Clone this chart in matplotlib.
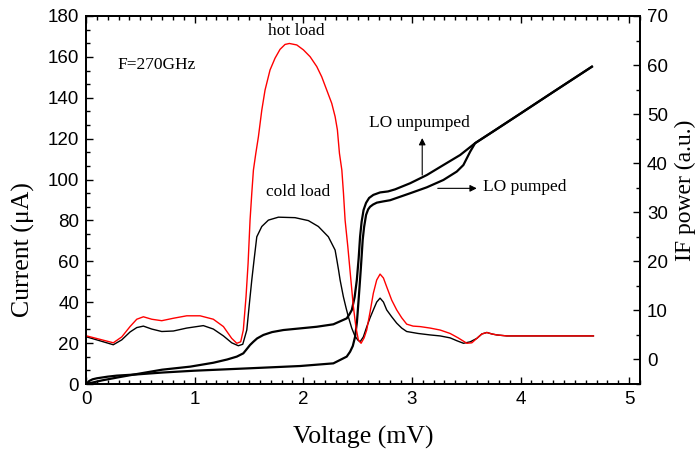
#!/usr/bin/env python3
import matplotlib
matplotlib.use("Agg")
import matplotlib.pyplot as plt
from matplotlib.ticker import AutoMinorLocator, MultipleLocator

# I-V curves, current in uA (left axis)
iv_pumped_v = [0.0, 0.15, 0.30, 0.47, 0.70, 0.96, 1.172, 1.30, 1.388, 1.448, 1.48, 1.51,
               1.541, 1.575, 1.633, 1.713, 1.817, 2.124, 2.277, 2.40, 2.426, 2.447, 2.473,
               2.493, 2.510, 2.523, 2.537, 2.555, 2.578, 2.606, 2.645, 2.707, 2.781,
               2.845, 2.984, 3.137, 3.29, 3.444, 3.582, 3.75, 4.0, 4.3, 4.657]
iv_pumped_i = [0.0, 1.8, 3.3, 4.9, 7.0, 8.5, 10.4, 12.0, 13.4, 15.0, 17.1, 19.1,
               20.7, 22.3, 24.0, 25.4, 26.4, 28.0, 29.2, 32.1, 34.2, 36.2, 42.6,
               50.9, 61.6, 72.1, 79.3, 85.1, 88.6, 91.0, 92.5, 93.7, 94.2,
               95.2, 98.2, 102.2, 107.1, 112.0, 117.8, 123.6, 132.3, 142.8, 155.2]

iv_unpumped_v = [0.0, 0.03, 0.06, 0.10, 0.20, 0.283, 0.47, 0.70, 0.994, 1.51, 1.971,
                 2.277, 2.40, 2.431, 2.456, 2.477, 2.494, 2.507, 2.518, 2.529, 2.538,
                 2.547, 2.560, 2.578, 2.597, 2.615, 2.643, 2.677, 2.735, 2.80, 2.984,
                 3.137, 3.29, 3.413, 3.474, 3.536, 3.582, 3.75, 4.0, 4.3, 4.657]
iv_unpumped_i = [0.0, 1.5, 2.3, 2.8, 3.6, 4.1, 4.7, 5.6, 6.5, 7.7, 8.8,
                 10.1, 13.4, 15.8, 18.6, 23.1, 30.3, 39.5, 47.5, 55.8, 63.1,
                 70.5, 76.8, 82.7, 85.4, 86.7, 87.8, 88.7, 89.3, 89.9, 93.3,
                 96.2, 99.8, 103.9, 107.1, 113.6, 117.8, 123.6, 132.3, 142.8, 155.2]

# IF power, a.u. (right axis)
hot_v = [0.006, 0.129, 0.251, 0.329, 0.405, 0.467, 0.528, 0.605, 0.697, 0.804, 0.927,
         1.05, 1.172, 1.265, 1.341, 1.388, 1.424, 1.448, 1.473, 1.492, 1.510, 1.526,
         1.541, 1.563, 1.587, 1.618, 1.648, 1.694, 1.740, 1.786, 1.832, 1.872, 1.940,
         2.001, 2.063, 2.124, 2.170, 2.216, 2.262, 2.293, 2.314, 2.333, 2.355, 2.370,
         2.385, 2.410, 2.435, 2.460, 2.485, 2.507, 2.532, 2.560, 2.584, 2.615,
         2.645, 2.676, 2.707, 2.738, 2.768, 2.814, 2.86, 2.906, 2.952, 3.011, 3.076,
         3.168, 3.26, 3.352, 3.426, 3.506, 3.552, 3.598, 3.644, 3.69, 3.736, 3.782,
         3.874, 4.671]
hot_p = [4.8, 4.1, 3.4, 4.6, 6.7, 8.2, 8.7, 8.2, 7.9, 8.4, 8.9,
         8.9, 8.2, 6.7, 4.3, 3.3, 3.6, 6.0, 12.8, 19.6, 28.4, 33.9,
         38.6, 42.0, 45.4, 50.8, 54.9, 59.0, 61.4, 63.2, 64.2, 64.4, 64.1,
         63.1, 61.7, 59.7, 57.6, 54.9, 52.2, 49.5, 46.8, 42.0, 38.6, 33.9,
         28.4, 23.0, 17.0, 11.0, 6.5, 4.0, 3.3, 4.4, 6.0, 9.7,
         13.5, 16.2, 17.4, 16.6, 14.8, 12.1, 10.1, 8.5, 7.2, 6.8, 6.7,
         6.4, 6.0, 5.3, 4.4, 3.3, 3.4, 4.3, 5.2, 5.5, 5.2, 5.0,
         4.8, 4.8]

cold_v = [0.006, 0.129, 0.251, 0.329, 0.405, 0.467, 0.528, 0.605, 0.697, 0.804, 0.927,
          1.080, 1.172, 1.265, 1.341, 1.402, 1.443, 1.480, 1.504, 1.526, 1.547, 1.572,
          1.618, 1.679, 1.771, 1.924, 2.047, 2.139, 2.231, 2.293, 2.309, 2.325, 2.339,
          2.369, 2.394, 2.415, 2.446, 2.477, 2.505, 2.523, 2.553, 2.585, 2.615, 2.645,
          2.676, 2.707, 2.738, 2.768, 2.814, 2.86, 2.906, 2.952, 3.057, 3.168, 3.260,
          3.352, 3.416, 3.475, 3.537, 3.598, 3.644, 3.69, 3.736, 3.782, 3.874, 4.671]
cold_p = [4.6, 3.8, 3.0, 4.0, 5.6, 6.5, 6.8, 6.2, 5.7, 5.8, 6.4,
          6.9, 6.2, 4.8, 3.4, 2.8, 3.1, 6.0, 11.4, 16.2, 20.3, 25.0,
          27.1, 28.4, 29.0, 28.9, 28.3, 27.1, 25.0, 22.3, 20.3, 18.2, 16.2,
          12.8, 10.5, 8.7, 6.4, 4.7, 3.9, 3.6, 4.6, 6.7, 8.5, 10.1,
          11.7, 12.5, 11.7, 10.1, 8.7, 7.4, 6.4, 5.7, 5.3, 5.0, 4.8,
          4.4, 3.8, 3.3, 3.6, 4.3, 5.2, 5.5, 5.2, 5.0, 4.8, 4.8]

SERIF = "Liberation Serif"
SANS = "Liberation Sans"

fig = plt.figure(figsize=(7.0, 4.53), dpi=100)
ax = fig.add_axes([0.1229, 0.1523, 0.7914, 0.8124])
ax2 = ax.twinx()

ax.plot(iv_unpumped_v, iv_unpumped_i, color="black", lw=1.6)
ax.plot(iv_pumped_v, iv_pumped_i, color="black", lw=1.6)
ax2.plot(cold_v, cold_p, color="black", lw=1.0)
ax2.plot(hot_v, hot_p, color="red", lw=1.0)

ax.set_xlim(0, 5.1)
ax.set_ylim(0, 180)
ax2.set_ylim(-5, 70)

ax.xaxis.set_major_locator(MultipleLocator(1))
ax.xaxis.set_minor_locator(AutoMinorLocator(10))
ax.yaxis.set_major_locator(MultipleLocator(20))
ax.yaxis.set_minor_locator(AutoMinorLocator(3))
ax2.yaxis.set_major_locator(MultipleLocator(10))
ax2.yaxis.set_minor_locator(MultipleLocator(5))

ax.tick_params(which="both", direction="in", top=True, right=False, width=1.0, pad=5)
ax.tick_params(which="major", length=5)
ax.tick_params(which="minor", length=3)
ax2.tick_params(which="both", direction="in", width=1.0, pad=5)
ax2.tick_params(which="major", length=5)
ax2.tick_params(which="minor", length=3)

for a in (ax, ax2):
    for s in a.spines.values():
        s.set_linewidth(1.3)
    for lab in a.get_xticklabels() + a.get_yticklabels():
        lab.set_fontfamily(SANS)
        lab.set_fontsize(13.5)

ax.set_xlabel("Voltage (mV)", fontfamily=SERIF, fontsize=18.5, labelpad=13)
ax.set_ylabel("Current (\u03bcA)", fontfamily=SERIF, fontsize=18.5, labelpad=9)
ax2.set_ylabel("IF power (a.u.)", fontfamily=SERIF, fontsize=17, labelpad=5)
ax.yaxis.label.set_y(0.364)
ax2.yaxis.label.set_y(0.527)

txt = dict(fontfamily=SERIF, fontsize=12.5, color="black")
ax.text(0.285, 156, "F=270GHz", ha="left", va="center", **txt)
ax.text(1.934, 172.7, "hot load", ha="center", va="center", **txt)
ax.text(1.952, 93.9, "cold load", ha="center", va="center", **txt)
ax.text(3.073, 127.5, "LO unpumped", ha="center", va="center", **txt)
ax.text(3.656, 96.5, "LO pumped", ha="left", va="center", **txt)

arrow = dict(arrowstyle="-|>", color="black", lw=0.8, mutation_scale=10, shrinkA=0, shrinkB=0)
ax.annotate("", xy=(3.095, 120.3), xytext=(3.095, 102.2), arrowprops=arrow)
ax.annotate("", xy=(3.597, 95.7), xytext=(3.238, 95.7), arrowprops=arrow)

fig.savefig("out.png", dpi=100)
